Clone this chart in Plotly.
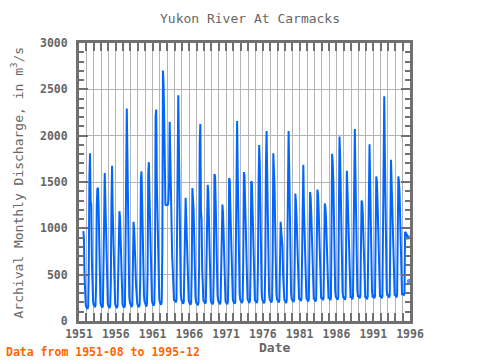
import pandas as pd
import plotly.graph_objects as go

title_text = "Yukon River At Carmacks"
y_title = "Archival Monthly Discharge, in m<sup>3</sup>/s"
x_title = "Date"
note_text = "Data from 1951-08 to 1995-12"
start_month = "1951-08-01"
end_month = "1995-12-01"

# monthly discharge (m3/s)
flow_1950s = [
    970, 905, 500, 230, 170,
    150, 140, 130, 160, 560, 1570, 1810, 1290, 1255, 660, 290, 210,
    175, 160, 150, 170, 400, 1240, 1435, 1430, 1230, 800, 300, 200,
    170, 150, 145, 160, 490, 1070, 1596, 1290, 1050, 620, 260, 190,
    160, 150, 140, 170, 420, 1280, 1675, 1190, 850, 500, 270, 180,
    160, 145, 140, 170, 500, 1070, 1185, 1110, 820, 480, 240, 180,
    160, 150, 145, 170, 620, 1580, 2292, 1620, 1190, 560, 260, 200,
    175, 160, 150, 175, 640, 1071, 990, 850, 620, 400, 250, 190,
    170, 160, 150, 180, 460, 1530, 1614, 1300, 850, 560, 280, 210,
]
flow_1960s = [
    180, 165, 155, 190, 550, 1600, 1714, 1360, 1000, 640, 300, 220,
    190, 175, 165, 200, 640, 2210, 2281, 1490, 1070, 620, 300, 230,
    200, 185, 175, 210, 780, 2703, 2560, 2180, 1346, 1257, 1250, 1250,
    1250, 1255, 1300, 1500, 2150, 1685, 1480, 1050, 700, 560, 290, 220,
    230, 210, 200, 220, 900, 2281, 2435, 1900, 1200, 620, 300, 230,
    210, 195, 185, 210, 600, 1150, 1330, 1100, 800, 500, 280, 220,
    200, 185, 175, 200, 560, 1435, 1330, 1200, 900, 500, 260, 200,
    190, 175, 170, 200, 600, 1918, 2125, 1186, 1096, 560, 300, 220,
    210, 195, 185, 210, 560, 1300, 1470, 1382, 1000, 540, 290, 220,
    200, 185, 180, 200, 580, 1585, 1560, 1275, 750, 480, 280, 220,
]
flow_1970s = [
    200, 185, 180, 210, 500, 1100, 1257, 1168, 850, 500, 280, 215,
    200, 190, 180, 210, 600, 1542, 1520, 1200, 900, 520, 290, 230,
    210, 195, 185, 210, 700, 1685, 2157, 1600, 1060, 560, 300, 230,
    220, 205, 195, 220, 640, 1607, 1560, 1300, 950, 540, 300, 235,
    220, 205, 195, 220, 560, 1507, 1496, 1250, 900, 520, 290, 225,
    215, 200, 195, 220, 580, 1500, 1900, 1685, 1100, 600, 300, 230,
    215, 200, 190, 220, 650, 1700, 2050, 1600, 1100, 600, 310, 235,
    225, 210, 200, 230, 700, 1810, 1650, 1450, 1050, 560, 300, 235,
    225, 210, 200, 230, 700, 1071, 971, 880, 800, 500, 290, 230,
    220, 205, 195, 225, 800, 1700, 2050, 1650, 1100, 560, 300, 235,
]
flow_1980s = [
    230, 215, 205, 230, 700, 1375, 1275, 1100, 850, 500, 300, 240,
    240, 225, 215, 240, 800, 1650, 1685, 1200, 900, 540, 300, 245,
    235, 220, 210, 240, 700, 1393, 1330, 1150, 880, 500, 290, 240,
    235, 220, 210, 240, 650, 1418, 1364, 1200, 900, 520, 300, 250,
    250, 235, 225, 250, 600, 1268, 1230, 1100, 850, 520, 310, 250,
    250, 235, 225, 250, 800, 1804, 1700, 1500, 1000, 560, 320, 260,
    250, 240, 230, 260, 900, 1990, 1793, 1350, 950, 560, 310, 255,
    255, 240, 230, 260, 700, 1621, 1418, 1200, 900, 540, 320, 260,
    260, 245, 235, 265, 900, 1864, 2071, 1600, 1050, 580, 330, 270,
    270, 255, 245, 270, 600, 1300, 1280, 1150, 900, 540, 320, 260,
]
flow_1990s = [
    260, 245, 235, 265, 800, 1700, 1907, 1500, 1000, 560, 320, 265,
    270, 255, 245, 270, 700, 1560, 1507, 1300, 950, 560, 320, 270,
    270, 255, 245, 270, 900, 1990, 2425, 1800, 1100, 580, 330, 275,
    280, 265, 255, 280, 900, 1740, 1500, 1200, 900, 560, 330, 275,
    280, 265, 255, 280, 800, 1560, 1507, 1382, 1000, 580, 330, 280,
    300, 285, 275, 300, 960, 955, 940, 930, 905, None, None, 430,
]

flows = flow_1950s + flow_1960s + flow_1970s + flow_1980s + flow_1990s
dates = pd.date_range(start_month, end_month, freq="MS")
assert len(dates) == len(flows), (len(dates), len(flows))

# markers only where a run of data ends next to a gap
sizes = []
for i, v in enumerate(flows):
    prev_gap = i > 0 and flows[i - 1] is None
    next_gap = i < len(flows) - 1 and flows[i + 1] is None
    sizes.append(5 if v is not None and (prev_gap or next_gap) else 0)

line_color = "#0066FF"
text_color = "#666666"
frame_color = "#707070"
grid_color = "#b4b4b4"
mono = "DejaVu Sans Mono"

fig = go.Figure()
fig.add_trace(go.Scatter(
    x=dates, y=flows, mode="lines+markers",
    line=dict(color=line_color, width=2),
    marker=dict(color=line_color, size=sizes, line=dict(width=0)),
    connectgaps=False, hoverinfo="skip", showlegend=False,
))

fig.update_layout(
    width=480, height=360,
    margin=dict(l=79, r=70, t=43, b=39),
    paper_bgcolor="white", plot_bgcolor="white",
    font=dict(family=mono, color=text_color, size=11.5),
    showlegend=False,
)
fig.update_xaxes(
    type="date", range=["1951-01-01", "1996-01-01"],
    tick0="1951-01-01", dtick="M60", tickformat="%Y",
    ticks="inside", ticklen=8, tickwidth=2, tickcolor=frame_color,
    showgrid=True, gridcolor=grid_color, gridwidth=1,
    minor=dict(dtick="M12", ticks="inside", ticklen=8, tickwidth=2,
               tickcolor=frame_color, showgrid=True, gridcolor=grid_color, gridwidth=1),
    showline=True, linecolor=frame_color, linewidth=3, mirror="allticks",
    zeroline=False, tickfont=dict(family=mono, size=11.5, color=text_color, weight="bold"),
)
fig.update_yaxes(
    range=[0, 3000], dtick=500, tick0=0,
    ticks="inside", ticklen=9, tickwidth=2, tickcolor=frame_color,
    showgrid=True, gridcolor=grid_color, gridwidth=1,
    minor=dict(dtick=100, ticks="inside", ticklen=5, tickwidth=2, tickcolor=frame_color),
    showline=True, linecolor=frame_color, linewidth=3, mirror="allticks",
    zeroline=False, ticklabelstandoff=6,
    tickfont=dict(family=mono, size=11.5, color=text_color, weight="bold"),
)

fig.add_annotation(text=title_text, xref="paper", yref="paper", x=(250 - 79) / 331, y=1 + 25 / 278,
                   showarrow=False, xanchor="center", yanchor="middle",
                   font=dict(family=mono, size=13, color=text_color))
fig.add_annotation(text=x_title, xref="paper", yref="paper", x=(274 - 79) / 331, y=-26 / 278,
                   showarrow=False, xanchor="center", yanchor="middle",
                   font=dict(family=mono, size=13, color=text_color, weight="bold"))
fig.add_annotation(text=y_title, xref="paper", yref="paper", x=(17.5 - 79) / 331, y=(321 - 183) / 278,
                   showarrow=False, xanchor="center", yanchor="middle", textangle=-90,
                   font=dict(family=mono, size=13, color=text_color))
fig.add_annotation(text=note_text, xref="paper", yref="paper", x=(4 - 79) / 331, y=-31 / 278,
                   showarrow=False, xanchor="left", yanchor="middle",
                   font=dict(family=mono, size=11.5, color="#FF6600", weight="bold"))

fig.write_html("out.html", config={"displayModeBar": False},
               post_script="document.body.style.margin='0';")
